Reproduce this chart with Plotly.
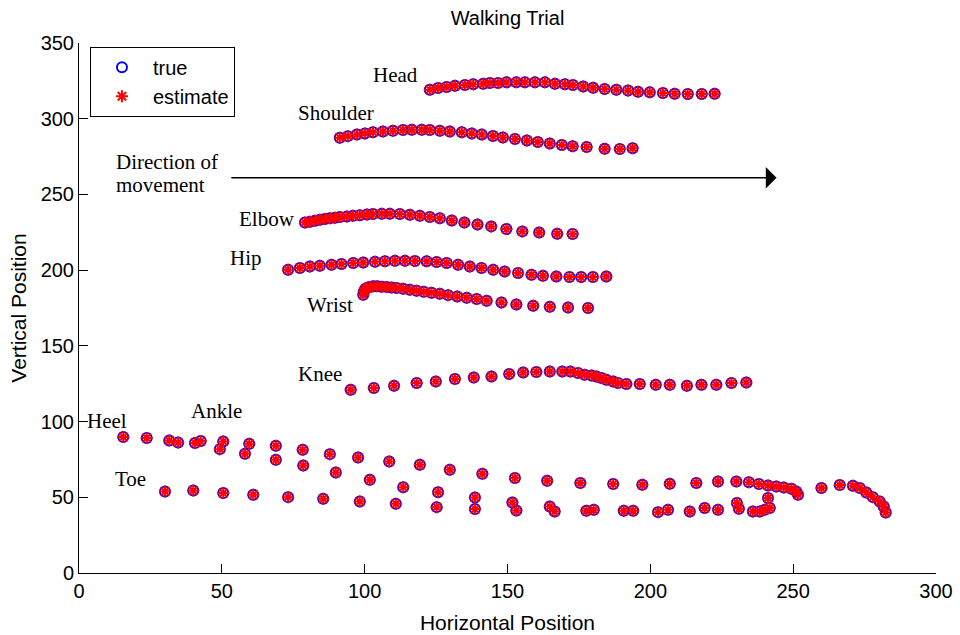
import plotly.graph_objects as go

# ---- marker trajectories (horizontal, vertical) per body point ----
HEAD_X = [122.8, 125.7, 128.7, 131.6, 135.1, 138.0, 141.5, 143.8, 146.7, 149.6,
          153.1, 156.1, 159.6, 163.1, 166.6, 170.1, 172.9, 176.5, 180.0, 184.0,
          188.1, 192.2, 195.7, 199.8, 204.4, 208.5, 213.1, 218.0, 222.5]
HEAD_Y = [319.2, 320.3, 320.9, 321.8, 322.3, 322.7, 323.1, 323.6, 323.6, 324.0,
          324.0, 324.0, 324.0, 324.0, 323.1, 322.7, 322.3, 321.3, 320.5, 319.6,
          319.2, 318.7, 317.8, 317.4, 317.0, 316.5, 316.3, 316.3, 316.5]

SHOULDER_X = [91.3, 94.1, 97.3, 100.1, 102.9, 106.4, 109.9, 113.4, 116.5, 120.0,
              122.8, 126.3, 129.8, 134.0, 137.5, 141.0, 144.9, 148.4, 152.6, 156.8,
              160.6, 164.8, 169.0, 172.8, 177.7, 184.0, 189.3, 193.8]
SHOULDER_Y = [287.5, 288.5, 289.5, 290.3, 291.0, 291.6, 292.1, 292.5, 292.7, 292.7,
              292.5, 292.1, 291.6, 291.0, 290.3, 289.5, 288.6, 287.6, 286.6, 285.6,
              284.6, 283.6, 282.7, 281.8, 281.3, 280.2, 280.0, 280.5]

ELBOW_X = [79.1, 80.8, 82.6, 84.3, 86.1, 87.8, 89.6, 91.3, 93.8, 95.9,
           98.3, 100.8, 102.9, 106.0, 108.8, 112.3, 115.8, 119.3, 122.8, 126.3,
           130.5, 134.9, 139.5, 144.3, 149.6, 155.2, 161.1, 167.4, 172.8]
ELBOW_Y = [231.5, 232.0, 232.6, 233.3, 233.7, 234.2, 234.6, 235.1, 235.5, 235.9,
           236.3, 236.8, 237.0, 237.2, 237.2, 237.0, 236.6, 235.9, 235.1, 234.2,
           232.8, 231.5, 230.2, 228.9, 227.1, 225.6, 224.9, 224.0, 223.8]

HIP_X = [73.2, 77.3, 80.8, 84.3, 88.4, 91.9, 96.0, 99.5, 103.6, 107.1,
         110.6, 114.1, 117.6, 121.7, 125.2, 128.7, 132.7, 136.8, 140.9, 145.0,
         149.0, 153.7, 158.4, 162.4, 167.1, 171.7, 175.8, 179.9, 184.6]
HIP_Y = [200.3, 201.4, 202.4, 202.9, 203.6, 204.0, 204.7, 205.1, 205.6, 205.8,
         206.2, 206.2, 206.0, 205.8, 205.3, 204.7, 203.6, 202.4, 201.4, 200.3,
         199.1, 198.1, 197.0, 196.3, 195.8, 195.4, 195.4, 195.4, 195.8]

WRIST_X = [99.5, 99.7, 100.2, 100.9, 101.8, 103.0, 104.4, 105.9, 107.7, 109.4,
           111.2, 113.5, 115.8, 118.2, 120.7, 123.4, 126.3, 129.2, 132.4, 135.7,
           139.2, 142.7, 147.9, 153.1, 159.0, 164.8, 171.2, 178.2]
WRIST_Y = [183.7, 185.9, 187.5, 188.4, 188.8, 189.3, 189.3, 189.0, 188.8, 188.6,
           188.2, 187.7, 187.1, 186.4, 185.7, 185.1, 184.4, 183.5, 182.6, 181.8,
           180.9, 179.8, 178.7, 177.3, 176.5, 175.8, 175.4, 175.0]

KNEE_X = [95.1, 103.2, 110.3, 118.2, 124.9, 131.6, 138.2, 144.4, 150.6, 155.5,
          160.1, 164.8, 169.2, 172.0, 174.7, 177.0, 179.4, 181.1, 182.9, 184.6,
          187.0, 188.7, 191.6, 196.3, 201.9, 206.8, 212.8, 217.9, 223.1, 228.4, 233.6]
KNEE_Y = [121.0, 122.1, 123.6, 125.4, 126.5, 128.1, 129.1, 129.8, 131.4, 132.4,
          132.7, 133.1, 133.1, 133.1, 132.0, 130.9, 130.5, 129.8, 128.7, 127.6,
          126.5, 125.4, 124.8, 124.8, 124.3, 124.3, 123.6, 124.3, 124.3, 125.4, 125.8]

HEEL_X = [15.5, 23.7, 31.6, 40.6, 49.3, 58.1, 68.9, 78.5, 89.9, 101.8,
          113.5, 125.7, 138.6, 151.7, 164.8, 177.6, 190.7, 202.7, 213.8, 223.7,
          231.0, 235.9, 238.3, 240.0, 241.8]
HEEL_Y = [89.8, 89.1, 87.5, 85.8, 81.8, 78.7, 74.8, 71.0, 66.4, 61.6,
          56.7, 53.4, 49.9, 46.6, 43.9, 41.1, 41.1, 40.2, 40.6, 41.7,
          42.4, 40.6, 40.6, 41.7, 42.9]

ANKLE_X = [34.7, 42.6, 50.5, 59.6, 68.9, 78.3, 87.8, 97.7, 108.6, 119.3,
           129.8, 141.2, 152.6, 163.9, 175.5, 187.0, 197.2, 206.8, 216.1, 223.7,
           230.1, 234.5, 238.0, 241.2, 244.1, 246.7, 249.4, 251.1]
ANKLE_Y = [86.2, 87.1, 86.9, 85.3, 84.0, 81.4, 78.5, 76.3, 73.7, 71.5,
           68.2, 65.5, 62.7, 60.9, 59.4, 58.7, 58.3, 58.9, 59.4, 60.4,
           60.4, 60.0, 58.7, 57.8, 57.1, 56.5, 55.6, 53.8]

TOE_X = [30.1, 40.0, 50.5, 61.0, 73.2, 85.5, 98.3, 110.9, 125.2, 138.6,
         153.1, 166.5, 180.2, 194.0, 206.2, 219.0, 230.3, 241.2, 251.7, 259.9,
         266.3, 270.9, 273.3, 275.6, 277.9, 280.3, 281.7, 282.4]
TOE_Y = [53.8, 54.5, 52.8, 51.7, 50.1, 49.0, 47.2, 45.7, 43.5, 42.2,
         41.3, 40.6, 41.7, 41.1, 41.7, 42.9, 46.2, 49.5, 51.7, 56.1,
         58.1, 57.6, 56.1, 53.2, 50.1, 47.2, 43.9, 40.0]

# body-point labels: (text, x, y)
LABELS = [
    ("Head", 110.9, 329.1),
    ("Shoulder", 89.9, 303.9),
    ("Elbow", 65.8, 233.9),
    ("Hip", 58.4, 208.2),
    ("Wrist", 87.8, 177.1),
    ("Knee", 84.3, 131.5),
    ("Heel", 9.8, 100.5),
    ("Ankle", 48.3, 107.1),
    ("Toe", 18.2, 62.4),
]
DIRECTION_LINES = [("Direction of", 12.3, 271.7), ("movement", 12.3, 255.9)]
ARROW_FROM = (52.8, 261.0)
ARROW_TO = (244.2, 261.0)

X_TICKS = [0, 50, 100, 150, 200, 250, 300]
Y_TICKS = [0, 50, 100, 150, 200, 250, 300, 350]

parts = [(HEAD_X, HEAD_Y), (SHOULDER_X, SHOULDER_Y), (ELBOW_X, ELBOW_Y),
         (HIP_X, HIP_Y), (WRIST_X, WRIST_Y), (KNEE_X, KNEE_Y),
         (HEEL_X, HEEL_Y), (ANKLE_X, ANKLE_Y), (TOE_X, TOE_Y)]

true_x, true_y = [], []
for px, py in parts:
    true_x += px + [None]
    true_y += py + [None]

# the tracker's estimates sit on top of the true positions
est_x, est_y = list(true_x), list(true_y)

SANS = "Arial, Liberation Sans, Helvetica, sans-serif"
SERIF = "Times New Roman, Liberation Serif, serif"

fig = go.Figure()
fig.add_trace(go.Scatter(
    x=true_x, y=true_y, mode="markers", name="true",
    marker=dict(symbol="circle-open", size=10, color="#0000ff",
                line=dict(color="#0000ff", width=2)),
))
fig.add_trace(go.Scatter(
    x=est_x, y=est_y, mode="markers", name="estimate",
    marker=dict(symbol="asterisk-open", size=10, color="#ff0000",
                line=dict(color="#ff0000", width=2)),
))

annotations = []
for text, x, y in LABELS:
    annotations.append(dict(x=x, y=y, xref="x", yref="y", text=text,
                            showarrow=False, font=dict(family=SERIF, size=21, color="black")))
for text, x, y in DIRECTION_LINES:
    annotations.append(dict(x=x, y=y, xref="x", yref="y", text=text, xanchor="left",
                            showarrow=False, font=dict(family=SERIF, size=21, color="black")))
annotations.append(dict(
    x=ARROW_TO[0], y=ARROW_TO[1], ax=ARROW_FROM[0], ay=ARROW_FROM[1],
    xref="x", yref="y", axref="x", ayref="y", text="", showarrow=True,
    arrowhead=1, arrowsize=2.4, arrowwidth=1.5, arrowcolor="black",
))

axis_common = dict(
    showline=True, linecolor="black", linewidth=1, mirror=False,
    ticks="inside", ticklen=9, tickwidth=1, tickcolor="black",
    showgrid=False, zeroline=False, automargin=False,
    tickfont=dict(family=SANS, size=20, color="black"),
)

fig.update_layout(
    width=960, height=635,
    margin=dict(l=79, r=24, t=43, b=62),
    paper_bgcolor="white", plot_bgcolor="white",
    title=dict(text="Walking Trial", x=0.5, xref="paper", xanchor="center",
               y=1 - 18 / 635, yref="container", yanchor="middle",
               font=dict(family=SANS, size=20, color="black")),
    xaxis=dict(range=[0, 300], tickvals=X_TICKS,
               title=dict(text="Horizontal Position", standoff=14,
                          font=dict(family=SANS, size=21, color="black")),
               **axis_common),
    yaxis=dict(range=[0, 350], tickvals=Y_TICKS,
               title=dict(text="Vertical Position", standoff=8,
                          font=dict(family=SANS, size=21, color="black")),
               **axis_common),
    legend=dict(x=0.0128, y=0.993, xanchor="left", yanchor="top",
                bgcolor="white", bordercolor="black", borderwidth=1,
                font=dict(family=SANS, size=20, color="black"),
                itemwidth=52, entrywidth=126, entrywidthmode="pixels"),
    showlegend=True,
    annotations=annotations,
)

fig.write_html("out.html")
